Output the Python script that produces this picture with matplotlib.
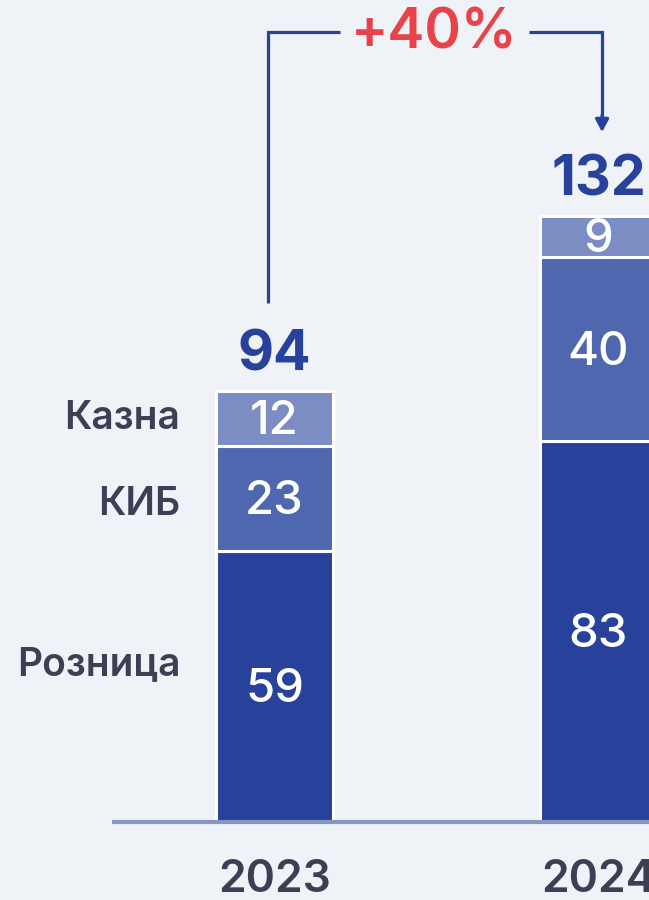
import matplotlib
matplotlib.use("Agg")
import matplotlib.pyplot as plt
import numpy as np

years = ["2023", "2024"]
segments = ["Розница", "КИБ", "Казна"]
roznitsa = [59, 83]
kib = [23, 40]
kazna = [12, 9]
totals = [94, 132]
growth_label = "+40%"

colors = ["#28419A", "#4F67AE", "#7C8DC4"]
bg = "#EFF3F8"
text_dark = "#3D4055"
blue_txt = "#28419A"
red = "#E8434B"

plt.rcParams['font.family'] = ['Inter', 'DejaVu Sans']

fig = plt.figure(figsize=(6.49, 9.0), dpi=100)
fig.patch.set_facecolor(bg)
ax = fig.add_axes([0, 0, 1, 1])
ax.set_facecolor(bg)
ax.axis('off')

ppu = 4.59  # pixels per unit
base_px = 78
ax.set_ylim(-base_px / ppu, (900 - base_px) / ppu)
spacing = 324.0
ax.set_xlim(-274.5 / spacing, (649 - 274.5) / spacing)

x = np.arange(len(years))
width = 117 / spacing
bottoms = np.zeros(len(years))
series = [roznitsa, kib, kazna]
for vals, col in zip(series, colors):
    vals = np.array(vals, dtype=float)
    ax.bar(x, vals, width=width, bottom=bottoms, color=col, edgecolor="white",
           linewidth=2.2, zorder=2)
    for xi, v, b in zip(x, vals, bottoms):
        ax.text(xi, b + v / 2 - 0.8, f"{int(v)}", ha="center", va="center",
                color="white", fontsize=34, fontweight="medium", zorder=3)
    bottoms += vals

# totals
for xi, t in zip(x, totals):
    ax.text(xi, t + 2.0, f"{t}", ha="center", va="bottom", color=blue_txt,
            fontsize=40, fontweight="bold", zorder=3)

# baseline
ax.plot([(112 - 274.5) / spacing, 2.0], [0, 0], color="#8596BF", lw=3, zorder=4,
        solid_capstyle="butt")

# segment labels on the left of first bar
lab_x = x[0] - width / 2 - 0.11
ax.text(lab_x, 34.2, segments[0], ha="right", va="center",
        color=text_dark, fontsize=28, fontweight="semibold")
ax.text(lab_x, 69.1, segments[1], ha="right", va="center",
        color=text_dark, fontsize=28, fontweight="semibold")
ax.text(lab_x, 87.8, segments[2], ha="right", va="center",
        color=text_dark, fontsize=28, fontweight="semibold")

# year labels
for xi, y in zip(x, years):
    ax.text(xi, -12.6, y, ha="center", va="center", color=text_dark,
            fontsize=32, fontweight="semibold")

# growth bracket
line_c = "#28419A"
top_y = 172.1
lx = x[0] - 0.02
rx = x[1] + 0.011
ax.plot([lx, lx, 0.202], [totals[0] + 19, top_y, top_y], color=line_c, lw=2.3,
        solid_capstyle="butt", solid_joinstyle="miter", zorder=3)
ax.plot([0.786, rx, rx], [top_y, top_y, totals[1] + 21], color=line_c, lw=2.3,
        solid_capstyle="butt", solid_joinstyle="miter", zorder=3)
ax.annotate("", xy=(rx, totals[1] + 18.3), xytext=(rx, totals[1] + 22),
            arrowprops=dict(arrowstyle="-|>,head_length=0.75,head_width=0.4",
                            color=line_c, lw=2.3, shrinkA=0, shrinkB=0))
ax.text((0.202 + 0.786) / 2, top_y - 0.4, growth_label, ha="center", va="center",
        color=red, fontsize=40, fontweight="semibold")

fig.savefig("out.png", dpi=100, facecolor=bg)
